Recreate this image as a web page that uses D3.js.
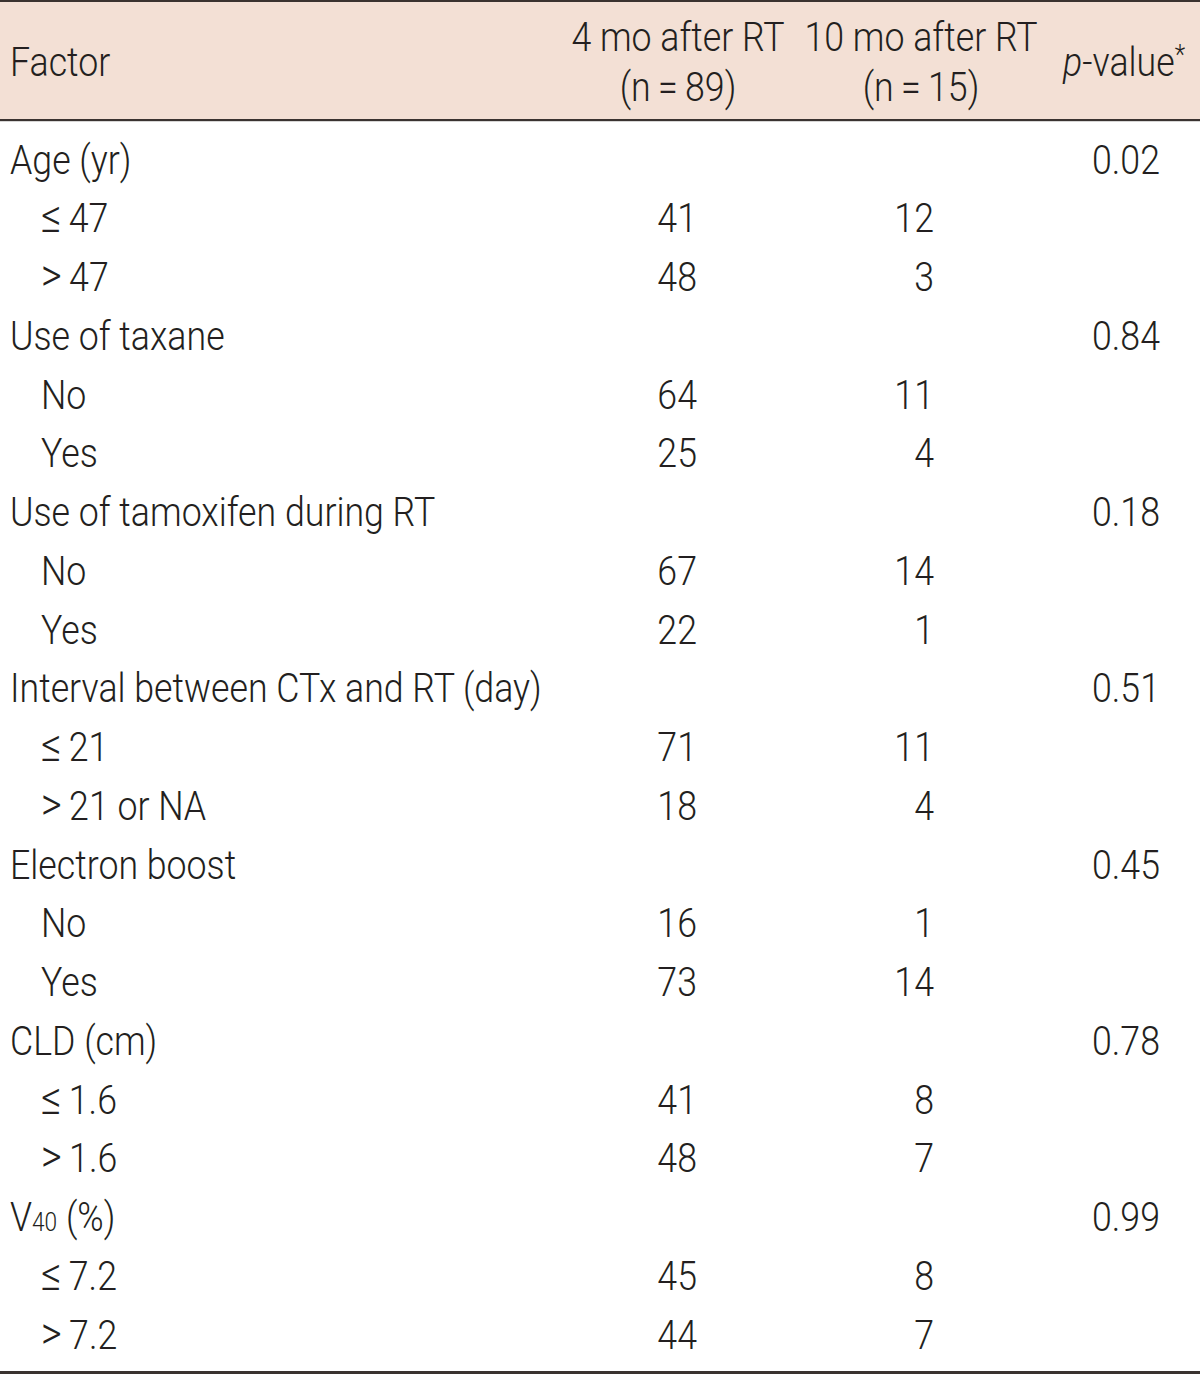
<!DOCTYPE html>
<html>
<head>
<meta charset="utf-8">
<script src="https://cdn.jsdelivr.net/npm/d3@7"></script>
<style>
  html, body { margin: 0; padding: 0; background: #ffffff; }
  svg { display: block; }
  text { font-family: Roboto, "Liberation Sans", Arial, sans-serif; font-weight: 300; fill: #231f20; }
</style>
</head>
<body>
<div id="chart"></div>
<script>
// ---- data ----
const headerLine1 = ["Factor", "4 mo after RT", "10 mo after RT", "p-value*"];
const headerLine2 = ["", "(n\u2009=\u200989)", "(n\u2009=\u200915)", ""];
const rowLabels = [
  "Age (yr)", "\u2264\u200947", ">\u200947",
  "Use of taxane", "No", "Yes",
  "Use of tamoxifen during RT", "No", "Yes",
  "Interval between CTx and RT (day)", "\u2264\u200921", ">\u200921 or NA",
  "Electron boost", "No", "Yes",
  "CLD (cm)", "\u2264\u20091.6", ">\u20091.6",
  "V40 (%)", "\u2264\u20097.2", ">\u20097.2"
];
const rowLevel = [0,1,1, 0,1,1, 0,1,1, 0,1,1, 0,1,1, 0,1,1, 0,1,1];
const mo4Values  = [null,41,48, null,64,25, null,67,22, null,71,18, null,16,73, null,41,48, null,45,44];
const mo10Values = [null,12,3,  null,11,4,  null,14,1,  null,11,4,  null,1,14,  null,8,7,   null,8,7];
const pValues    = ["0.02",null,null, "0.84",null,null, "0.18",null,null, "0.51",null,null, "0.45",null,null, "0.78",null,null, "0.99",null,null];

// ---- layout ----
const W = 1200, H = 1374;
const FS = 41;
const svg = d3.select("#chart").append("svg").attr("width", W).attr("height", H);

// measure a horizontal condensing factor so the widest label matches the reference width
const probe = svg.append("text").attr("font-size", FS).text(rowLabels[9]);
const SX = 532 / probe.node().getComputedTextLength();
probe.remove();

const y = d3.scaleLinear().domain([0, rowLabels.length - 1]).range([160, 1335]);
const baseOff = 13.5;
const colX = d3.scaleOrdinal().domain(["label","indent","mo4","mo10","p"]).range([10, 41, 697, 934, 1160]);

function addText(parent, x, yy, anchor) {
  return parent.append("g").attr("transform", `translate(${x},${yy}) scale(${SX},1)`)
    .append("text").attr("x", 0).attr("y", 0).attr("text-anchor", anchor).attr("font-size", FS);
}

// header band
svg.append("rect").attr("x", 0).attr("y", 1).attr("width", W).attr("height", 119).attr("fill", "#f3e0d5");
// rules
svg.append("rect").attr("x", 0).attr("y", 0).attr("width", W).attr("height", 2).attr("fill", "#3a3330");
svg.append("rect").attr("x", 0).attr("y", 119).attr("width", W).attr("height", 2.2).attr("fill", "#3a3330");
svg.append("rect").attr("x", 0).attr("y", 1371).attr("width", W).attr("height", 3).attr("fill", "#3a3330");

// header text
const hdr = svg.append("g");
addText(hdr, 10, 76, "start").text(headerLine1[0]);
const hCenters = [null, 678, 921, 1124];
[1, 2].forEach(i => {
  addText(hdr, hCenters[i], 51, "middle").text(headerLine1[i]);
  addText(hdr, hCenters[i], 101, "middle").text(headerLine2[i]);
});
const pv = addText(hdr, hCenters[3], 76, "middle");
pv.append("tspan").attr("font-style", "italic").text(headerLine1[3].charAt(0));
pv.append("tspan").text(headerLine1[3].slice(1, -1));
pv.append("tspan").attr("font-size", 28).attr("dy", -12).text("*");

// body rows
const rows = svg.append("g").selectAll("g.row").data(rowLabels.map((l, i) => i)).join("g").attr("class", "row");

rows.each(function(i) {
  const g = d3.select(this);
  const by = y(i) + baseOff;
  const label = rowLabels[i];
  const t = addText(g, rowLevel[i] ? colX("indent") : colX("label"), by, "start");
  if (label.startsWith("V40")) {
    t.append("tspan").text("V");
    t.append("tspan").attr("font-size", 26).text("40");
    t.append("tspan").text(label.slice(3));
  } else if (label.charAt(0) === "\u2264" || label.charAt(0) === ">") {
    t.append("tspan").attr("font-size", 46).text(label.charAt(0));
    t.append("tspan").text(label.slice(1));
  } else {
    t.text(label);
  }
  if (mo4Values[i] !== null) addText(g, colX("mo4"), by, "end").text(mo4Values[i]);
  if (mo10Values[i] !== null) addText(g, colX("mo10"), by, "end").text(mo10Values[i]);
  if (pValues[i] !== null) addText(g, colX("p"), by, "end").text(pValues[i]);
});
</script>
</body>
</html>
